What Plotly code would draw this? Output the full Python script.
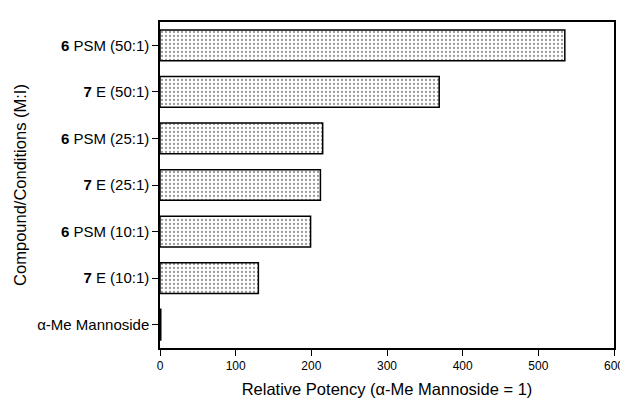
import plotly.graph_objects as go

# Data (bottom to top)
categories = [
    "α-Me Mannoside",
    "<b>7</b> E (10:1)",
    "<b>6</b> PSM (10:1)",
    "<b>7</b> E (25:1)",
    "<b>6</b> PSM (25:1)",
    "<b>7</b> E (50:1)",
    "<b>6</b> PSM (50:1)",
]
potency = [1, 130, 199, 212, 215, 369, 535]
x_ticks = [0, 100, 200, 300, 400, 500, 600]

FONT = "Liberation Sans, Arial, Helvetica, sans-serif"

fig = go.Figure(
    go.Bar(
        x=potency,
        y=list(range(len(categories))),
        orientation="h",
        width=0.66,
        marker=dict(
            color="white",
            line=dict(color="black", width=1.5),
            pattern=dict(shape=".", fgcolor="#333", bgcolor="white", size=4, solidity=0.25),
        ),
    )
)

fig.update_layout(
    width=628,
    height=400,
    margin=dict(l=150, r=13, t=13, b=51),
    paper_bgcolor="white",
    plot_bgcolor="white",
    showlegend=False,
    font=dict(family=FONT, color="black"),
    xaxis=dict(
        range=[0, 600],
        tickvals=x_ticks,
        ticktext=[str(v) for v in x_ticks],
        ticks="outside",
        ticklen=6,
        tickwidth=1.2,
        tickcolor="black",
        showline=True,
        linecolor="black",
        linewidth=1.5,
        mirror=True,
        showgrid=False,
        zeroline=False,
        tickfont=dict(size=12),
        title=dict(text="Relative Potency (α-Me Mannoside = 1)", font=dict(size=16.5), standoff=11),
    ),
    yaxis=dict(
        range=[-0.5, 6.5],
        tickvals=list(range(len(categories))),
        ticktext=categories,
        ticks="outside",
        ticklen=6,
        tickwidth=1.2,
        tickcolor="black",
        showline=True,
        linecolor="black",
        linewidth=1.5,
        mirror=True,
        showgrid=False,
        zeroline=False,
        tickfont=dict(size=15),
        title=dict(text="Compound/Conditions (M:I)", font=dict(size=16.5), standoff=6),
    ),
)

fig.write_html("out.html")
